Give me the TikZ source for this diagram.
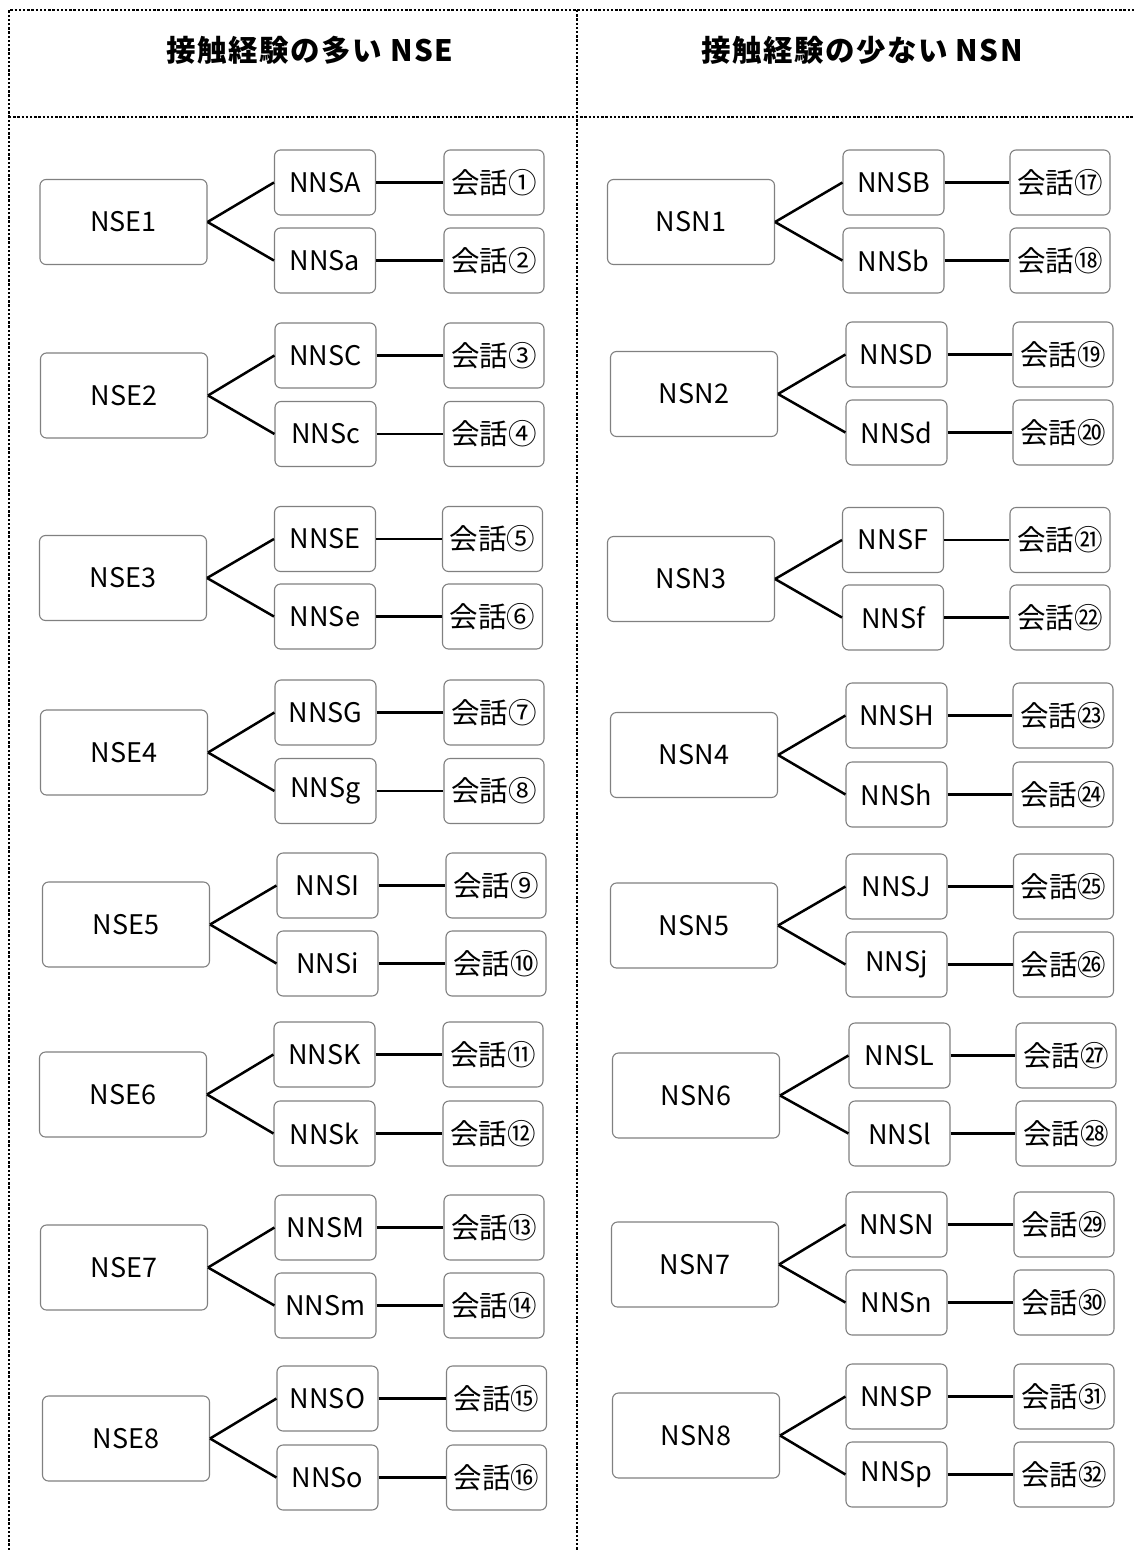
\documentclass[tikz,border=0pt]{standalone}
\usepackage{fontspec}
\setmainfont{Noto Sans CJK JP}
\newfontfamily\titlefont[LetterSpace=5]{Noto Sans CJK JP}
\begin{document}
\begin{tikzpicture}[x=1pt,y=-1pt,
  frame/.style={line width=2.8pt, dash pattern=on 2.4pt off 1.8pt, black},
  boxbase/.style={draw=black!50, line width=1.1pt, rounded corners=6pt, inner sep=0pt, align=center},
  parent/.style={boxbase, minimum width=167pt, minimum height=85pt, font=\fontsize{27}{32}\selectfont},
  child/.style={boxbase, minimum width=101pt, minimum height=65pt, font=\fontsize{27}{32}\selectfont},
  talk/.style={boxbase, minimum width=100pt, minimum height=65pt, font=\fontsize{28.5}{32}\selectfont},
  link/.style={line width=2.5pt, black},
  title/.style={font=\fontsize{29.5}{34}\titlefont\bfseries}
]
\useasboundingbox (0,0) rectangle (1134,1550);
% frame
\coordinate (ftl) at (9,10);
\coordinate (ftr) at (1134,10);
\coordinate (fbl) at (9,1550);
\coordinate (fmt) at (577,10);
\coordinate (fmb) at (577,1550);
\coordinate (fhl) at (9,117);
\coordinate (fhr) at (1134,117);
\draw[frame] (fbl) -- (ftl) -- (ftr);
\draw[frame] (fmt) -- (fmb);
\draw[frame] (fhl) -- (fhr);
% titles
\node[title] (t1) at (310,50) {接触経験の多い NSE};
\node[title] (t2) at (862,50) {接触経験の少ない NSN};
% groups
\foreach \id/\pl/\px/\py/\cx/\ca/\cb/\tx/\la/\lb/\ta/\tb in {
  a1/NSE1/123.5/222/325/182.5/260.5/494/NNSA/NNSa/①/②,
  a2/NSE2/124/395.5/325.5/355.5/434/494/NNSC/NNSc/③/④,
  a3/NSE3/123/578/325/539/616.5/492.5/NNSE/NNSe/⑤/⑥,
  a4/NSE4/124/752.5/325.5/712.5/791/494/NNSG/NNSg/⑦/⑧,
  a5/NSE5/126/924.5/327.5/885.5/963.5/496/NNSI/NNSi/⑨/⑩,
  a6/NSE6/123/1094.5/324.5/1054.5/1133.5/493/NNSK/NNSk/⑪/⑫,
  a7/NSE7/124/1267.5/325.5/1227.5/1305.5/494/NNSM/NNSm/⑬/⑭,
  a8/NSE8/126/1438.5/327.5/1398.5/1477.5/496.5/NNSO/NNSo/⑮/⑯,
  b1/NSN1/691/222/893.5/182.5/260.5/1060/NNSB/NNSb/⑰/⑱,
  b2/NSN2/694/394/896.5/354.5/432.5/1063/NNSD/NNSd/⑲/⑳,
  b3/NSN3/691/579/893/540/617.5/1060/NNSF/NNSf/㉑/㉒,
  b4/NSN4/694/755/896.5/715.5/794.5/1063/NNSH/NNSh/㉓/㉔,
  b5/NSN5/694/925.5/896.5/886.5/964.5/1063.5/NNSJ/NNSj/㉕/㉖,
  b6/NSN6/696/1095.5/899.5/1055.5/1133.5/1066/NNSL/NNSl/㉗/㉘,
  b7/NSN7/695/1264.5/896.5/1224.5/1302.5/1064/NNSN/NNSn/㉙/㉚,
  b8/NSN8/696/1435.5/896.5/1396.5/1474.5/1064/NNSP/NNSp/㉛/㉜}{
  \node[parent] (p\id) at (\px,\py) {\pl};
  \node[child] (c\id u) at (\cx,\ca) {\la};
  \node[child] (c\id d) at (\cx,\cb) {\lb};
  \node[talk] (k\id u) at (\tx,\ca) {会話\ta};
  \node[talk] (k\id d) at (\tx,\cb) {会話\tb};
  \draw[link] (p\id.east) -- (c\id u.west);
  \draw[link] (p\id.east) -- (c\id d.west);
  \draw[link] (c\id u.east) -- (k\id u.west);
  \draw[link] (c\id d.east) -- (k\id d.west);
}
\end{tikzpicture}
\end{document}
